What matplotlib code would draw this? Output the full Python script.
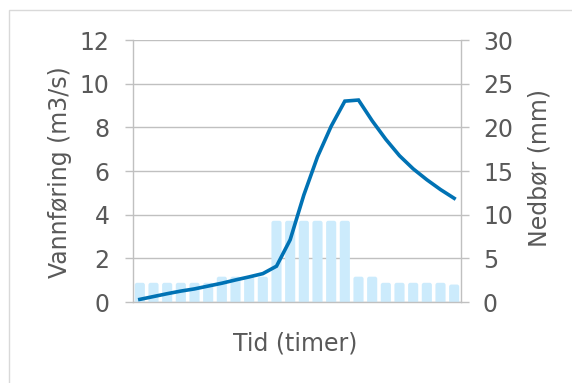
import matplotlib
matplotlib.use('Agg')
import matplotlib.pyplot as plt
from matplotlib.patches import Rectangle, FancyBboxPatch

# vannføring (venstre akse) og nedbør (høyre akse), én verdi per time
hours = list(range(1, 25))
flow = [0.12, 0.25, 0.38, 0.50, 0.60, 0.73, 0.86, 1.01, 1.15, 1.30, 1.64, 2.85,
        4.90, 6.65, 8.05, 9.20, 9.25, 8.30, 7.45, 6.70, 6.10, 5.60, 5.15, 4.75]
rain = [2.2, 2.2, 2.2, 2.2, 2.2, 2.2, 2.9, 2.9, 2.9, 2.9, 9.3, 9.3,
        9.3, 9.3, 9.3, 9.3, 2.9, 2.9, 2.2, 2.2, 2.2, 2.2, 2.2, 2.0]
left_ticks = [0, 2, 4, 6, 8, 10, 12]
right_ticks = [0, 5, 10, 15, 20, 25, 30]

W, H = 572, 383
txt = '#595959'
grid_c = '#C0C0C0'
plt.rcParams['font.family'] = 'DejaVu Sans'
plt.rcParams['font.size'] = 17

fig = plt.figure(figsize=(W / 100, H / 100), dpi=100)
ax = fig.add_axes([133 / W, 1 - 302 / H, (461 - 133) / W, (302 - 40) / H])
ax2 = ax.twinx()
ax.set_zorder(ax2.get_zorder() + 1)
ax.patch.set_visible(False)

# søyler på høyre akse, med litt avrundede hjørner
ax2.set_ylim(0, 30)
ax2.set_xlim(0.5, 24.5)
bars = ax2.bar(hours, rain, width=0.74, color='#CCEBFC', zorder=2)
px_x = (461 - 133) / 24.0   # piksler per time
px_y = (302 - 40) / 30.0    # piksler per mm
rx = 2.2 / px_x
for b in bars:
    x, w, h = b.get_x(), b.get_width(), b.get_height()
    b.remove()
    p = FancyBboxPatch((x, -1), w, h + 1,
                       boxstyle='round,pad=0,rounding_size=%.3f' % rx,
                       mutation_aspect=px_x / px_y,
                       facecolor='#CCEBFC', edgecolor='none', zorder=2)
    ax2.add_patch(p)
ax2.set_yticks(right_ticks)
ax2.grid(axis='y', color=grid_c, lw=1.0)
ax2.set_axisbelow(True)

# linje på venstre akse
ax.plot(hours, flow, color='#0072B4', lw=2.6, solid_joinstyle='miter')
ax.set_ylim(0, 12)
ax.set_yticks(left_ticks)
ax.set_xlim(0.5, 24.5)
ax.set_xticks([])
ax2.set_xticks([])

for a in (ax, ax2):
    for s in a.spines.values():
        s.set_visible(False)
ax.spines['left'].set_visible(True)
ax.spines['bottom'].set_visible(True)
ax2.spines['right'].set_visible(True)
for s in (ax.spines['left'], ax.spines['bottom'], ax2.spines['right']):
    s.set_color(grid_c)
    s.set_linewidth(1.0)

ax.tick_params(axis='y', length=5.8, width=1.0, color=grid_c, labelcolor=txt, pad=11)
ax2.tick_params(axis='y', length=5.8, width=1.0, color=grid_c, labelcolor=txt, pad=10)

fig.text(60 / W, 1 - 172 / H, 'Vannføring (m3/s)', rotation=90, ha='center', va='center', color=txt)
fig.text(540 / W, 1 - 168 / H, 'Nedbør (mm)', rotation=90, ha='center', va='center', color=txt)
fig.text(295 / W, 1 - 351 / H, 'Tid (timer)', ha='center', va='baseline', color=txt)

# ramme rundt diagrammet (høyre og nedre kant utenfor bildet)
fig.patches.append(Rectangle((9 / W, -0.1), 1.2, 1.1 - 10 / H, transform=fig.transFigure,
                             fill=False, edgecolor='#D9D9D9', lw=1.0))

fig.savefig('out.png', dpi=100)
